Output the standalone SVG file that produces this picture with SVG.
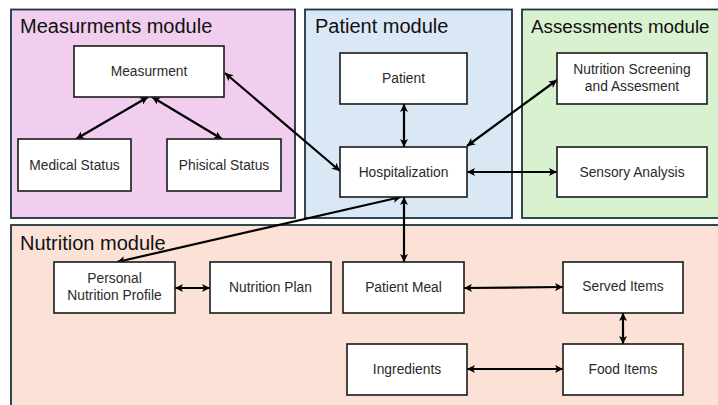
<svg xmlns="http://www.w3.org/2000/svg" width="718" height="405" viewBox="0 0 718 405">
<style>
.mod{stroke:#1c3440;stroke-width:1.8}
.box{fill:#ffffff;stroke:#1a1a1a;stroke-width:1.6}
.title{font-family:"Liberation Sans",Arial,sans-serif;font-size:20px;fill:#111}
.lbl{font-family:"Liberation Sans",Arial,sans-serif;font-size:13.8px;fill:#2a2a2a;text-anchor:middle}
.con{stroke:#000;stroke-width:2.2;fill:none;marker-start:url(#ah);marker-end:url(#ah)}
</style>
<defs>
<marker id="ah" viewBox="0 0 10 10" refX="10" refY="5" markerWidth="10" markerHeight="8" markerUnits="userSpaceOnUse" orient="auto-start-reverse">
<path d="M0,0 L10,5 L0,10 L2.5,5 Z" fill="#000"/>
</marker>
</defs>
<rect width="718" height="405" fill="#ffffff"/>
<g id="measurements-module">
<rect class="mod" x="11" y="9.5" width="284" height="208.5" fill="#f1cdee"/>
<text class="title" x="20" y="33">Measurments module</text>
</g>
<g id="patient-module">
<rect class="mod" x="305" y="9.5" width="207" height="208.5" fill="#dae8f6"/>
<text class="title" x="315" y="33">Patient module</text>
</g>
<g id="assessments-module">
<rect class="mod" x="522" y="9.5" width="200" height="208.5" fill="#d8f2d0"/>
<text class="title" x="531" y="33" style="font-size:18.8px">Assessments module</text>
</g>
<g id="nutrition-module">
<rect class="mod" x="11" y="225" width="711" height="190" fill="#fce2d6"/>
<text class="title" x="20" y="250">Nutrition module</text>
</g>
<g id="connectors">
<line class="con" x1="148" y1="97" x2="76" y2="139"/>
<line class="con" x1="152" y1="97" x2="222" y2="139"/>
<line class="con" x1="225" y1="73" x2="340" y2="171"/>
<line class="con" x1="404" y1="104" x2="404" y2="147"/>
<line class="con" x1="467" y1="146" x2="557" y2="80"/>
<line class="con" x1="467" y1="172" x2="557" y2="172"/>
<line class="con" x1="401" y1="197" x2="117" y2="262"/>
<line class="con" x1="404" y1="197" x2="404" y2="262"/>
<line class="con" x1="175" y1="288" x2="210" y2="288"/>
<line class="con" x1="464" y1="288" x2="563" y2="287"/>
<line class="con" x1="623" y1="313" x2="623" y2="344"/>
<line class="con" x1="467" y1="369" x2="563" y2="369"/>
</g>
<g id="measurment">
<rect class="box" x="74" y="46" width="150" height="51"/>
<text class="lbl" x="149" y="75.5">Measurment</text>
</g>
<g id="medical-status">
<rect class="box" x="18" y="139" width="113" height="52"/>
<text class="lbl" x="74.5" y="169.5">Medical Status</text>
</g>
<g id="phisical-status">
<rect class="box" x="167" y="139" width="114" height="52"/>
<text class="lbl" x="224" y="169.5">Phisical Status</text>
</g>
<g id="patient">
<rect class="box" x="340" y="53" width="127" height="51"/>
<text class="lbl" x="403.5" y="83">Patient</text>
</g>
<g id="hospitalization">
<rect class="box" x="340" y="147" width="127" height="50"/>
<text class="lbl" x="403.5" y="176.5">Hospitalization</text>
</g>
<g id="nutrition-screening">
<rect class="box" x="557" y="53" width="150" height="51"/>
<text class="lbl" x="632" y="74">Nutrition Screening</text>
<text class="lbl" x="632" y="91">and Assesment</text>
</g>
<g id="sensory-analysis">
<rect class="box" x="557" y="147" width="150" height="50"/>
<text class="lbl" x="632" y="176.5">Sensory Analysis</text>
</g>
<g id="personal-nutrition-profile">
<rect class="box" x="54" y="262" width="121" height="51"/>
<text class="lbl" x="114.5" y="283">Personal</text>
<text class="lbl" x="114.5" y="300">Nutrition Profile</text>
</g>
<g id="nutrition-plan">
<rect class="box" x="210" y="262" width="121" height="51"/>
<text class="lbl" x="270.5" y="292">Nutrition Plan</text>
</g>
<g id="patient-meal">
<rect class="box" x="343" y="262" width="121" height="51"/>
<text class="lbl" x="403.5" y="292">Patient Meal</text>
</g>
<g id="served-items">
<rect class="box" x="563" y="262" width="120" height="51"/>
<text class="lbl" x="623" y="291">Served Items</text>
</g>
<g id="ingredients">
<rect class="box" x="347" y="344" width="120" height="51"/>
<text class="lbl" x="407" y="374">Ingredients</text>
</g>
<g id="food-items">
<rect class="box" x="563" y="344" width="120" height="51"/>
<text class="lbl" x="623" y="374">Food Items</text>
</g>
</svg>
